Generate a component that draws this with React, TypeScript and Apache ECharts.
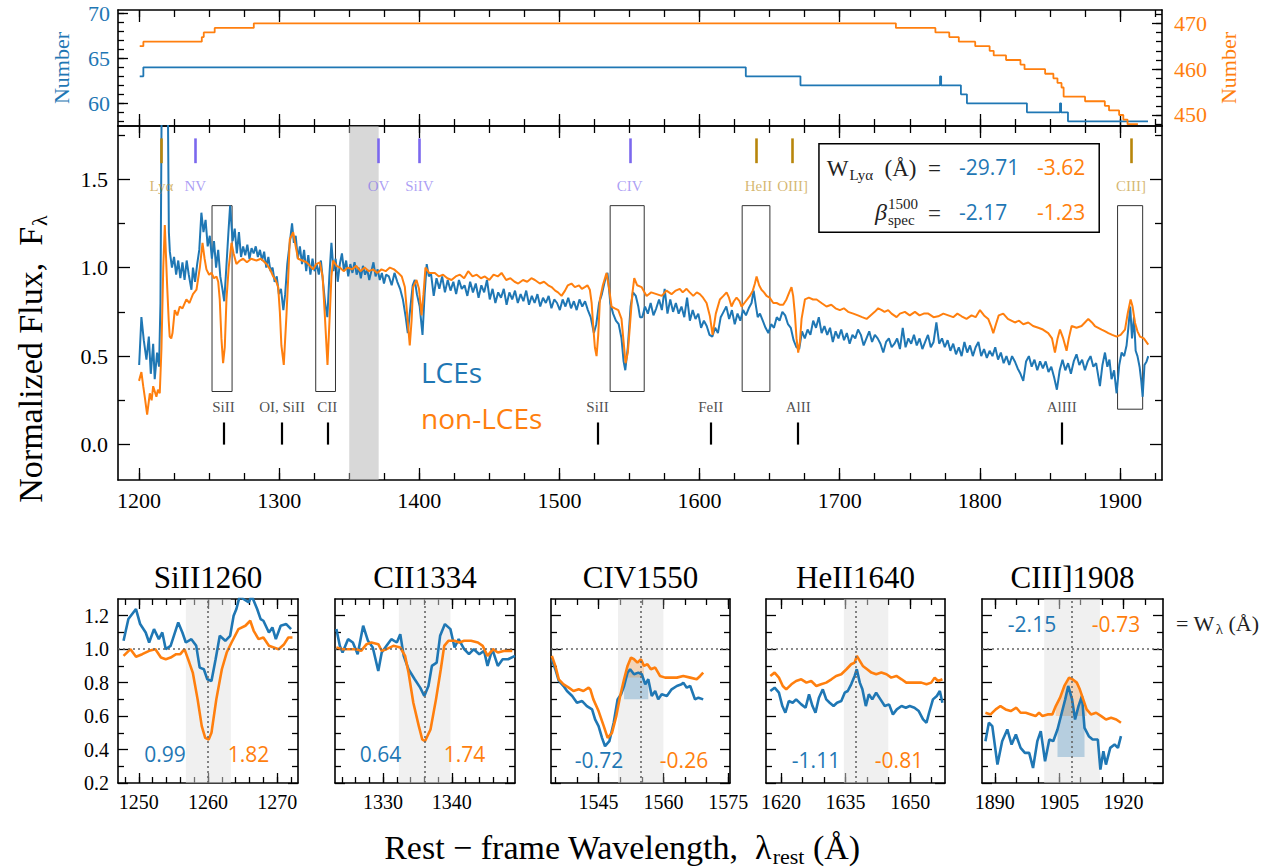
import React, { useEffect, useRef } from 'react';
import * as echarts from 'echarts';

const BLUE = '#1f77b4';
const ORANGE = '#ff7f0e';
const SERIF = '"Liberation Serif", "DejaVu Serif", serif';
const SANS = '"Open Sans", "Noto Sans", sans-serif';

// ---------- top panel: number of stacked spectra ----------
const lceCount = [[1200.5,63],[1203.1,64],[1633,63],[1672,62],[1771.6,63],[1772.4,62],[1786.5,61],[1790.8,60],[1833.6,59],[1857.2,60],[1858,59],[1862.9,58],[1920,58]];
const nonCount = [[1200.5,465],[1203.1,466],[1244.8,467],[1246.2,468],[1254,469],[1281.9,470],[1740.1,469],[1768.3,468],[1778.2,467],[1785,466],[1796.7,465],[1807,464],[1809.9,463],[1818.7,462],[1829,461],[1831.9,460],[1846.6,459],[1852.5,458],[1855.4,457],[1858.3,456],[1859.8,454],[1875.1,453],[1889.2,452],[1892.2,451],[1899.4,450],[1902.4,449],[1905.4,448],[1912.8,448]];

// ---------- main stacked spectra ----------
const lceSpec = [[1200.1,0.45],[1201.7,0.72],[1203.4,0.59],[1205.3,0.48],[1207,0.61],[1208.4,0.4],[1210.1,0.57],[1211.2,0.37],[1212.9,0.52],[1214.3,0.44],[1215.3,0.8],[1216.5,2.4],[1218.5,2.7],[1220.3,2.2],[1221.3,1.2],[1222,1.09],[1223.5,1.0],[1225,1.06],[1226.5,0.96],[1228,1.04],[1229.5,0.94],[1231,1.03],[1232.5,0.93],[1234,1.04],[1235.5,0.96],[1237.4,0.875],[1238.5,1.0],[1240,0.92],[1241.5,1.02],[1243,1.1],[1244.5,1.31],[1246,1.2],[1247.5,1.27],[1249,1.12],[1250.5,1.18],[1252,1.05],[1253.5,1.15],[1255,1.0],[1256.5,1.1],[1258,0.95],[1259.5,0.88],[1260.8,0.81],[1262.3,1.0],[1263.8,1.2],[1265,1.35],[1266.8,1.15],[1268.3,1.22],[1269.8,1.08],[1271.3,1.2],[1272.8,1.06],[1274.3,1.12],[1275.8,1.07],[1277.3,1.13],[1278.8,1.05],[1280.3,1.11],[1281.8,1.08],[1283.3,1.12],[1284.8,1.06],[1286.3,1.1],[1287.8,1.04],[1289.3,1.09],[1290.8,1.0],[1292.3,1.06],[1293.8,0.98],[1295.3,1.0],[1296.8,0.92],[1298.3,0.95],[1299.8,0.85],[1301.3,0.88],[1303,0.76],[1304.3,0.85],[1305.8,1.02],[1307.3,1.12],[1309.2,1.25],[1310.5,1.14],[1311.8,1.18],[1313.3,1.05],[1314.8,1.12],[1316.3,1.02],[1317.8,1.1],[1319.3,0.98],[1320.8,1.07],[1322.3,0.96],[1323.8,1.05],[1325.3,0.98],[1326.8,1.02],[1328.3,0.96],[1329.8,1.04],[1331.3,0.92],[1332.8,0.8],[1334.4,0.72],[1335.8,0.95],[1337.3,1.14],[1338.8,0.98],[1340.3,1.05],[1341.8,0.92],[1343.3,1.02],[1344.8,1.08],[1346.3,0.98],[1347.8,1.04],[1349.3,0.95],[1350.8,1.02],[1352.3,0.97],[1353.8,1.03],[1355.3,0.96],[1356.8,1.0],[1358.3,0.94],[1359.8,1.01],[1361.3,0.96],[1362.8,0.99],[1364.3,0.93],[1365.8,0.98],[1367.3,1.03],[1368.8,0.95],[1370.3,0.99],[1371.8,0.93],[1373.3,0.97],[1374.8,0.91],[1376.3,0.96],[1378.3,0.95],[1380.3,0.9],[1382.3,0.97],[1384.3,0.92],[1386.3,0.88],[1388.3,0.82],[1390.3,0.72],[1391.8,0.63],[1393.3,0.75],[1395.3,0.9],[1396.8,0.93],[1398.3,0.85],[1400.3,0.78],[1402.3,0.62],[1403.8,0.85],[1405.3,1.02],[1406.8,0.95],[1408.3,0.97],[1410.3,0.84],[1412.3,0.94],[1414.3,0.88],[1416.3,0.95],[1418.3,0.86],[1420.3,0.93],[1422.3,0.87],[1424.3,0.92],[1426.3,0.85],[1428.3,0.93],[1430.3,0.88],[1432.3,0.9],[1434.3,0.84],[1436.3,0.92],[1438.3,0.86],[1440.3,0.91],[1442.3,0.83],[1444.3,0.9],[1446.3,0.86],[1448.3,0.93],[1450.3,0.82],[1452.3,0.88],[1454.3,0.8],[1456.3,0.86],[1458.3,0.83],[1460.3,0.88],[1462.3,0.79],[1464.3,0.86],[1466.3,0.82],[1468.3,0.87],[1470.3,0.8],[1472.3,0.85],[1474.3,0.81],[1476.3,0.87],[1478.3,0.79],[1480.3,0.84],[1482.3,0.8],[1484.3,0.85],[1486.3,0.78],[1488.3,0.83],[1490.3,0.8],[1492.3,0.84],[1494.3,0.77],[1496.3,0.82],[1498.3,0.8],[1500.3,0.76],[1502.3,0.82],[1504.3,0.78],[1506.3,0.83],[1508.3,0.77],[1510.3,0.81],[1512.3,0.76],[1514.3,0.82],[1516.3,0.78],[1518.3,0.81],[1520.3,0.76],[1522.3,0.72],[1524.6,0.63],[1526.3,0.68],[1528.3,0.8],[1530.3,0.85],[1532.3,0.92],[1534.3,0.97],[1536.3,0.8],[1538.3,0.74],[1540.3,0.7],[1542.3,0.68],[1544.3,0.6],[1545.8,0.47],[1547,0.42],[1548.8,0.55],[1550.8,0.78],[1552.5,0.86],[1554.5,0.84],[1556.3,0.78],[1557.5,0.72],[1559.1,0.72],[1561.1,0.78],[1563.1,0.74],[1565.1,0.8],[1567.1,0.73],[1569.1,0.77],[1571.1,0.82],[1573.1,0.76],[1575.1,0.88],[1577.1,0.74],[1579.1,0.82],[1581.1,0.75],[1583.1,0.8],[1585.1,0.74],[1587.1,0.78],[1589.1,0.72],[1591.1,0.83],[1593.1,0.7],[1595.1,0.76],[1597.1,0.71],[1599.1,0.74],[1601.1,0.66],[1603.1,0.7],[1605.1,0.67],[1607.1,0.62],[1609.1,0.61],[1611.1,0.66],[1613.1,0.63],[1615.1,0.72],[1617.1,0.75],[1619.1,0.78],[1621.1,0.71],[1623.1,0.76],[1625.1,0.68],[1627.1,0.74],[1629.1,0.7],[1631.1,0.76],[1633.1,0.73],[1635.1,0.77],[1637.1,0.8],[1638.6,0.87],[1640.3,0.78],[1641.5,0.72],[1643.1,0.74],[1645.1,0.7],[1647.1,0.66],[1649.1,0.63],[1651.1,0.68],[1653.1,0.66],[1655.1,0.72],[1657.1,0.7],[1659.1,0.75],[1661.1,0.73],[1663.1,0.68],[1665.1,0.66],[1667.1,0.59],[1669.1,0.55],[1671.1,0.54],[1673.1,0.64],[1675.1,0.6],[1677.1,0.65],[1679.1,0.62],[1681.1,0.7],[1683.1,0.66],[1685.1,0.72],[1687.1,0.63],[1689.1,0.67],[1691.1,0.62],[1693.1,0.66],[1695.1,0.58],[1697.1,0.64],[1699.1,0.6],[1701.1,0.65],[1703.1,0.59],[1705.1,0.63],[1707.1,0.57],[1709.1,0.62],[1711.1,0.6],[1713.1,0.65],[1715.1,0.62],[1717.1,0.56],[1719.1,0.6],[1721.1,0.64],[1723.1,0.58],[1725.1,0.62],[1727.1,0.6],[1729.1,0.57],[1731.1,0.52],[1733.1,0.58],[1735.1,0.6],[1737.1,0.55],[1739.1,0.57],[1741,0.6],[1743,0.54],[1745,0.66],[1747,0.55],[1749,0.6],[1751,0.57],[1753,0.62],[1755,0.56],[1757,0.6],[1759,0.54],[1761,0.58],[1763,0.62],[1765,0.55],[1767,0.58],[1769,0.69],[1771,0.57],[1773,0.6],[1775,0.55],[1777,0.59],[1779,0.53],[1781,0.57],[1783,0.51],[1785,0.55],[1787,0.5],[1789,0.58],[1791,0.52],[1793,0.56],[1795,0.5],[1797,0.55],[1799,0.58],[1801,0.5],[1803,0.54],[1805,0.49],[1807,0.53],[1809,0.5],[1811,0.55],[1813,0.48],[1815,0.52],[1817,0.46],[1819,0.5],[1821,0.45],[1823,0.5],[1825,0.47],[1827,0.43],[1829,0.4],[1831,0.36],[1833,0.47],[1835,0.5],[1837,0.44],[1839,0.48],[1841,0.42],[1843,0.47],[1845,0.43],[1847,0.47],[1849,0.41],[1851,0.44],[1853,0.38],[1855,0.31],[1857,0.42],[1859,0.48],[1861,0.42],[1863,0.46],[1865,0.4],[1867,0.47],[1869,0.51],[1871,0.45],[1873,0.48],[1875,0.42],[1877,0.47],[1879,0.5],[1881,0.44],[1883,0.46],[1885.7,0.33],[1887.5,0.45],[1889.3,0.52],[1891,0.44],[1892.5,0.48],[1894,0.37],[1895.8,0.42],[1897.6,0.29],[1899.5,0.45],[1901.2,0.52],[1903,0.5],[1904.7,0.56],[1906,0.66],[1907.3,0.78],[1908.6,0.6],[1910,0.72],[1911.2,0.53],[1912.5,0.5],[1914,0.44],[1915.2,0.36],[1916.2,0.27],[1917.5,0.45],[1919,0.47],[1920.2,0.5]];

const nonSpec = [[1200,0.36],[1201.7,0.41],[1203,0.33],[1204.1,0.27],[1205.8,0.17],[1207.7,0.29],[1209,0.25],[1210.1,0.33],[1212.4,0.27],[1213.5,0.31],[1214.8,0.29],[1216,0.54],[1217.3,1.0],[1218.4,1.24],[1220,0.91],[1221.2,0.7],[1221.9,0.61],[1223,0.6],[1223.9,0.63],[1225.5,0.76],[1227.3,0.73],[1229.1,0.78],[1231,0.77],[1233.8,0.82],[1236,0.8],[1238.5,0.85],[1241,0.875],[1243.4,1.0],[1245.3,1.14],[1246.8,1.05],[1248.1,0.99],[1250,0.96],[1251.7,0.97],[1253.5,0.94],[1255.3,0.95],[1256.5,0.92],[1257.6,0.82],[1258.8,0.6],[1260,0.46],[1261.2,0.55],[1262.4,0.82],[1264,1.0],[1266,1.14],[1267.5,1.08],[1269.5,1.02],[1272,1.04],[1274.3,1.05],[1277,1.03],[1280,1.05],[1283.8,1.04],[1287,1.05],[1291,1.02],[1293.5,0.99],[1295.7,0.95],[1297.5,0.93],[1299.3,0.89],[1300.5,0.75],[1301.6,0.56],[1303.3,0.45],[1305.2,0.73],[1306.5,0.95],[1307.6,1.16],[1310,1.2],[1311.8,1.12],[1313.5,1.05],[1316.5,1.04],[1319.5,1.03],[1322,1.01],[1324.2,0.99],[1326.5,1.02],[1329,1.03],[1331,0.95],[1332.6,0.73],[1334.5,0.45],[1336.1,0.73],[1337.3,0.95],[1338.5,1.04],[1341,1.01],[1343.3,1.0],[1346,0.98],[1349,1.0],[1352,0.99],[1355,1.01],[1358,0.98],[1361,1.0],[1364,0.98],[1367,0.99],[1370,0.97],[1373,0.99],[1376,0.98],[1379,1.0],[1382,0.99],[1385,0.97],[1387.5,0.95],[1389.7,0.89],[1391.5,0.72],[1393.2,0.56],[1394.5,0.7],[1395.6,0.89],[1398,0.93],[1399.8,0.88],[1401.6,0.73],[1403,0.85],[1404.4,1.0],[1407,0.97],[1411.1,0.97],[1414,0.95],[1417,0.96],[1420,0.94],[1423,0.93],[1426,0.95],[1429,0.96],[1432,0.94],[1434.9,0.98],[1438,0.95],[1441,0.96],[1444,0.94],[1446.8,0.95],[1450,0.93],[1453,0.96],[1456,0.95],[1458.7,0.97],[1462,0.93],[1465,0.94],[1468,0.92],[1470.6,0.91],[1474,0.93],[1477,0.92],[1480,0.94],[1482.5,0.93],[1486,0.91],[1489,0.92],[1492,0.9],[1494.4,0.89],[1497,0.87],[1499,0.86],[1501.5,0.84],[1504,0.87],[1506,0.9],[1508.6,0.91],[1511,0.89],[1514,0.9],[1516,0.88],[1518.1,0.89],[1520,0.9],[1521.7,0.875],[1523,0.8],[1524.1,0.67],[1525.3,0.55],[1526.5,0.5],[1527.7,0.62],[1528.9,0.82],[1531,0.9],[1533.6,0.97],[1535.5,0.88],[1537.2,0.78],[1539.5,0.77],[1542,0.76],[1544.3,0.71],[1545.8,0.58],[1547.2,0.46],[1548.8,0.52],[1550.3,0.67],[1552,0.85],[1553.4,0.94],[1555.5,0.9],[1558.6,0.89],[1562.2,0.84],[1565.5,0.86],[1569.3,0.85],[1573,0.84],[1576.4,0.87],[1580,0.85],[1583,0.87],[1585.9,0.88],[1588,0.86],[1590.7,0.88],[1593,0.86],[1595.5,0.84],[1598,0.86],[1600.2,0.85],[1602.5,0.83],[1605,0.8],[1607.4,0.725],[1609.3,0.62],[1611.6,0.74],[1614.5,0.82],[1617,0.84],[1619.3,0.86],[1621,0.83],[1622.8,0.78],[1624.5,0.81],[1626.4,0.83],[1628.5,0.81],[1630,0.78],[1632,0.8],[1634,0.82],[1635.9,0.84],[1638,0.87],[1639.5,0.91],[1640.7,0.95],[1642.5,0.9],[1644.2,0.875],[1646,0.86],[1647.8,0.84],[1650,0.83],[1652.6,0.8],[1655,0.8],[1657.5,0.79],[1659.7,0.79],[1662,0.82],[1664,0.86],[1665.6,0.89],[1666.8,0.84],[1668,0.74],[1669.2,0.6],[1670.4,0.52],[1671.6,0.58],[1672.8,0.71],[1675.2,0.82],[1678,0.83],[1681,0.82],[1683.5,0.82],[1687,0.8],[1690.6,0.78],[1694,0.79],[1697,0.77],[1700.1,0.76],[1703,0.77],[1706,0.75],[1709.7,0.74],[1713,0.73],[1716,0.72],[1719.2,0.71],[1722,0.73],[1725,0.75],[1727.5,0.77],[1730,0.76],[1732,0.75],[1734.6,0.76],[1737,0.74],[1740.6,0.72],[1743,0.74],[1746.5,0.75],[1750,0.73],[1753.7,0.75],[1757,0.73],[1760,0.74],[1763.2,0.74],[1767,0.72],[1770.3,0.725],[1774,0.74],[1777.5,0.73],[1781,0.72],[1784,0.74],[1787,0.725],[1790.5,0.71],[1794.1,0.73],[1797,0.72],[1800.1,0.76],[1803,0.73],[1806,0.71],[1808,0.67],[1809.6,0.63],[1811.5,0.68],[1813.5,0.73],[1816.7,0.74],[1820,0.71],[1822.5,0.7],[1825,0.69],[1828,0.7],[1831,0.68],[1834.6,0.69],[1838,0.67],[1841.7,0.66],[1845,0.65],[1848.8,0.63],[1851.5,0.6],[1853.6,0.52],[1855.5,0.6],[1857.2,0.65],[1859.5,0.6],[1861.9,0.53],[1863.5,0.6],[1865.5,0.67],[1869,0.66],[1872.6,0.67],[1875,0.69],[1877.4,0.71],[1880,0.69],[1882.1,0.67],[1884.5,0.66],[1886.9,0.65],[1889.5,0.64],[1891.7,0.63],[1894.5,0.62],[1897.6,0.61],[1900.5,0.62],[1903.6,0.65],[1905.5,0.74],[1907.6,0.82],[1909,0.78],[1910.7,0.69],[1912.5,0.64],[1914.3,0.61],[1917,0.6],[1920.2,0.565]];

// ---------- line identifications ----------
const emissionLines = [
  { label: 'Lyα', wave: 1216, kind: 'gold' },
  { label: 'NV', wave: 1240.2, kind: 'purple' },
  { label: 'OV', wave: 1370.9, kind: 'purple' },
  { label: 'SiIV', wave: 1400.1, kind: 'purple' },
  { label: 'CIV', wave: 1550.2, kind: 'purple' },
  { label: 'HeII', wave: 1640.2, kind: 'gold', labelWave: 1642 },
  { label: 'OIII]', wave: 1666.4, kind: 'gold' },
  { label: 'CIII]', wave: 1907.8, kind: 'gold' },
];
const absorptionLines = [
  { label: 'SiII', wave: 1260.2 },
  { label: 'OI, SiII', wave: 1302.1 },
  { label: 'CII', wave: 1334.4 },
  { label: 'SiII', wave: 1527.2 },
  { label: 'FeII', wave: 1608 },
  { label: 'AlII', wave: 1670.4 },
  { label: 'AlIII', wave: 1858.4 },
];
const zoomBoxes = [
  [1252.1, 1266.4, 0.30, 1.35],
  [1326.1, 1340.2, 0.30, 1.35],
  [1536.2, 1560.5, 0.30, 1.35],
  [1630.4, 1650.2, 0.30, 1.35],
  [1898.3, 1916.2, 0.20, 1.35],
];
const maskedBand = [1350, 1371];

// ---------- zoom panels ----------
const siiBlue = [[1247.8,1.05],[1248.5,1.18],[1249.6,1.24],[1250.2,1.15],[1251,1.1],[1251.5,1.04],[1252.2,1.12],[1252.9,1.06],[1253.4,1.1],[1253.9,1.0],[1254.6,1.02],[1255.7,1.16],[1256.3,1.1],[1256.8,1.04],[1257.6,1.06],[1258.3,1.02],[1258.8,0.89],[1259.4,0.88],[1259.9,0.82],[1260.5,0.81],[1261.1,0.94],[1261.7,1.08],[1262.5,1.05],[1263.2,1.08],[1263.7,1.2],[1264.1,1.24],[1264.6,1.32],[1265.1,1.3],[1265.9,1.28],[1266.3,1.32],[1267.1,1.24],[1267.6,1.18],[1268,1.17],[1268.8,1.1],[1269.3,1.13],[1269.8,1.06],[1270.5,1.14],[1271.3,1.15],[1272,1.12]];
const siiOrange = [[1247.8,0.96],[1248.8,1.0],[1249.6,0.955],[1250.5,0.97],[1251.5,0.99],[1252.4,1.0],[1253.2,0.95],[1253.9,0.94],[1254.6,0.95],[1255.4,0.97],[1256,0.97],[1256.6,1.0],[1257.3,0.92],[1257.8,0.86],[1258.5,0.7],[1259.1,0.54],[1259.6,0.47],[1260.1,0.46],[1260.5,0.5],[1261.2,0.7],[1262,0.88],[1262.7,0.98],[1263.4,1.04],[1264.4,1.12],[1265.4,1.14],[1266.1,1.17],[1266.6,1.11],[1267.3,1.06],[1268,1.07],[1268.8,1.02],[1269.5,1.01],[1270.2,1.0],[1271,1.03],[1271.6,1.07],[1272.2,1.07]];
const ciiBlue = [[1323.2,1.12],[1323.7,1.02],[1324.1,0.98],[1324.9,1.06],[1325.6,1.04],[1326.3,0.97],[1327.1,1.14],[1327.8,1.05],[1328.5,1.01],[1329.3,0.87],[1329.8,0.98],[1330.5,1.02],[1331.2,1.06],[1332,1.04],[1332.5,1.09],[1333,0.96],[1333.7,0.88],[1334.6,0.82],[1335.4,0.77],[1336,0.72],[1336.6,0.78],[1337.1,0.9],[1337.8,0.92],[1338.3,1.08],[1339,1.15],[1339.8,1.12],[1340.4,1.01],[1341,1.06],[1341.8,1.0],[1342.5,0.97],[1343.2,1.0],[1344,0.97],[1344.7,0.99],[1345.2,0.9],[1345.9,1.0],[1346.7,0.9],[1347.4,0.94],[1348.2,0.94],[1349.2,0.96]];
const ciiOrange = [[1323.2,1.01],[1324.1,1.0],[1325.1,1.0],[1326.1,1.0],[1326.8,0.99],[1327.6,1.03],[1328.3,1.04],[1329.3,1.03],[1329.8,0.99],[1330.5,1.0],[1331.5,1.02],[1332.5,1.01],[1333.2,0.96],[1333.7,0.86],[1334.4,0.68],[1335.2,0.54],[1335.7,0.46],[1336.1,0.45],[1336.9,0.52],[1337.7,0.7],[1338.4,0.88],[1338.9,1.02],[1339.5,1.05],[1340.4,1.05],[1341.1,1.04],[1341.8,1.05],[1342.8,1.05],[1343.8,1.04],[1344.5,1.02],[1345.2,0.96],[1346,1.0],[1346.7,0.98],[1347.7,0.99],[1348.8,0.99]];
const civBlue = [[1534.2,0.94],[1535,0.88],[1535.8,0.81],[1536.9,0.78],[1537.7,0.75],[1538.9,0.72],[1540,0.68],[1541.2,0.69],[1542.3,0.66],[1543.5,0.64],[1544.2,0.58],[1545,0.54],[1545.8,0.47],[1546.5,0.42],[1547.5,0.45],[1548.5,0.56],[1549.4,0.7],[1550.2,0.73],[1550.9,0.78],[1551.7,0.86],[1552.3,0.88],[1553.2,0.85],[1554.2,0.86],[1555,0.85],[1555.8,0.79],[1556.5,0.82],[1557.3,0.72],[1558.1,0.75],[1558.8,0.7],[1559.6,0.73],[1560.8,0.72],[1561.9,0.76],[1563.1,0.78],[1564.2,0.79],[1564.6,0.8],[1565.4,0.77],[1566.2,0.78],[1567.3,0.7],[1568.1,0.71],[1569.2,0.7]];
const civOrange = [[1534.2,0.96],[1535,0.9],[1535.8,0.82],[1536.9,0.79],[1538.1,0.77],[1539.2,0.75],[1540.4,0.76],[1541.5,0.75],[1542.7,0.77],[1543.1,0.76],[1543.8,0.7],[1545,0.63],[1546.2,0.54],[1547.1,0.47],[1548.1,0.5],[1549.1,0.6],[1550,0.72],[1550.9,0.82],[1551.7,0.9],[1552.5,0.95],[1553.2,0.94],[1554,0.92],[1554.8,0.94],[1555.5,0.9],[1556.3,0.91],[1557.1,0.88],[1558.1,0.89],[1559.2,0.84],[1560.4,0.83],[1561.5,0.83],[1563.1,0.83],[1564.6,0.84],[1566.2,0.83],[1567.7,0.82],[1568.5,0.84],[1569.2,0.86]];
const heiiBlue = [[1617.5,0.75],[1618.5,0.77],[1619.5,0.74],[1620.3,0.66],[1621,0.62],[1621.8,0.69],[1622.7,0.68],[1623.5,0.7],[1624.7,0.67],[1625.7,0.65],[1626.5,0.73],[1627.3,0.66],[1628,0.62],[1628.8,0.71],[1629.7,0.76],[1630.5,0.7],[1631.3,0.68],[1632.2,0.66],[1633,0.68],[1634,0.69],[1634.8,0.74],[1635.5,0.75],[1636.3,0.79],[1637.1,0.84],[1637.6,0.88],[1638.3,0.8],[1638.9,0.76],[1639.7,0.66],[1640.4,0.73],[1641.2,0.7],[1642.1,0.74],[1643.1,0.7],[1644.1,0.66],[1645.1,0.67],[1646,0.61],[1646.9,0.64],[1648,0.66],[1649,0.65],[1649.9,0.66],[1651,0.65],[1652,0.63],[1653,0.58],[1653.8,0.56],[1654.4,0.62],[1655.3,0.7],[1656.2,0.72],[1656.9,0.75],[1657.5,0.68]];
const heiiOrange = [[1617.5,0.84],[1618.5,0.86],[1619.5,0.83],[1620.4,0.78],[1621.2,0.76],[1622.4,0.79],[1623.5,0.81],[1624.7,0.82],[1625.9,0.8],[1627,0.81],[1628.2,0.78],[1629.3,0.79],[1630.5,0.8],[1631.7,0.82],[1632.8,0.84],[1634,0.85],[1635.2,0.88],[1636.3,0.91],[1637.1,0.92],[1637.6,0.96],[1638.3,0.93],[1639,0.9],[1640,0.88],[1641,0.86],[1642.1,0.85],[1643.3,0.86],[1644.5,0.85],[1645.6,0.83],[1646.8,0.84],[1648,0.82],[1649.1,0.8],[1650.3,0.8],[1651.4,0.8],[1652.6,0.8],[1653.8,0.79],[1654.9,0.8],[1655.7,0.83],[1656.5,0.81],[1657.5,0.82]];
const ciiiBlue = [[1887.8,0.45],[1888.6,0.56],[1889.4,0.54],[1890.6,0.31],[1891.7,0.45],[1892.9,0.52],[1893.9,0.43],[1894.9,0.49],[1896,0.41],[1897,0.38],[1898,0.38],[1898.9,0.29],[1899.9,0.45],[1900.7,0.51],[1901.7,0.33],[1902.7,0.46],[1903.6,0.45],[1904.6,0.52],[1905.6,0.62],[1906.4,0.7],[1907.1,0.78],[1908,0.7],[1908.7,0.58],[1909.5,0.66],[1910.3,0.72],[1910.9,0.53],[1911.9,0.48],[1912.8,0.46],[1914,0.46],[1914.6,0.28],[1915.3,0.39],[1915.9,0.31],[1916.9,0.41],[1917.9,0.43],[1918.7,0.41],[1919.4,0.48]];
const ciiiOrange = [[1887.8,0.62],[1889,0.61],[1890.2,0.64],[1891.3,0.66],[1892.5,0.64],[1893.7,0.63],[1895,0.65],[1896,0.62],[1897.2,0.62],[1898.4,0.61],[1899.5,0.6],[1900.3,0.62],[1901.1,0.6],[1902.3,0.61],[1903.4,0.61],[1904.2,0.66],[1905.2,0.71],[1906.2,0.78],[1907.3,0.83],[1908.1,0.82],[1909.1,0.8],[1909.8,0.76],[1910.6,0.7],[1911.4,0.64],[1912.4,0.61],[1913.6,0.62],[1914.8,0.6],[1915.9,0.58],[1917.1,0.59],[1918.3,0.58],[1919.4,0.56]];

const panels = [
  { title: 'SiII1260', range: [1247, 1273], center: 1260, band: [1256.8, 1263.3], blue: siiBlue, orange: siiOrange,
    majors: [1250, 1260, 1270], minorStep: 2, wBlue: '0.99', wOrange: '1.82', fills: [] },
  { title: 'CII1334', range: [1323, 1349.2], center: 1336, band: [1332.3, 1339.8], blue: ciiBlue, orange: ciiOrange,
    majors: [1330, 1340], minorStep: 2, wBlue: '0.64', wOrange: '1.74', fills: [] },
  { title: 'CIV1550', range: [1534, 1575.4], center: 1554.7, band: [1549.5, 1560], blue: civBlue, orange: civOrange,
    majors: [1545, 1560, 1575], minorStep: 5, wBlue: '-0.72', wOrange: '-0.26',
    fills: [{ who: 'blue', from: 1550.7, to: 1556.6, base: 0.70 }, { who: 'orange', from: 1551.3, to: 1555.8, base: 0.83 }] },
  { title: 'HeII1640', range: [1616.5, 1658.1], center: 1637.4, band: [1634.6, 1644.9], blue: heiiBlue, orange: heiiOrange,
    majors: [1620, 1635, 1650], minorStep: 5, wBlue: '-1.11', wOrange: '-0.81', fills: [] },
  { title: 'CIII]1908', range: [1887, 1929.2], center: 1908, band: [1901.5, 1914.5], blue: ciiiBlue, orange: ciiiOrange,
    majors: [1890, 1905, 1920], minorStep: 5, wBlue: '-2.15', wOrange: '-0.73',
    fills: [{ who: 'orange', from: 1903.9, to: 1912, base: 0.60 }, { who: 'blue', from: 1904.2, to: 1911.6, base: 0.355 }] },
];

const mainXMajor = [1200, 1300, 1400, 1500, 1600, 1700, 1800, 1900];
const mainYMajor = [0, 0.5, 1.0, 1.5];
const topLeftMajor = [60, 65, 70];
const topRightMajor = [450, 460, 470];
const panelYMajor = [0.2, 0.4, 0.6, 0.8, 1.0, 1.2];

function steps(a: number, b: number, s: number) {
  const out: number[] = [];
  for (let v = a; v <= b + 1e-9; v += s) out.push(Math.round(v * 1000) / 1000);
  return out;
}

function buildOption() {
  const grids = [
    { left: 118, top: 10, width: 1044, height: 116 },
    { left: 118, top: 126, width: 1044, height: 354 },
    { left: 118, top: 599, width: 180, height: 184 },
    { left: 335, top: 599, width: 180, height: 184 },
    { left: 551, top: 599, width: 179, height: 184 },
    { left: 766, top: 599, width: 179, height: 184 },
    { left: 982, top: 599, width: 181, height: 184 },
  ].map((g) => ({ ...g, containLabel: false, outerBoundsMode: 'none', show: false }));

  const xAxes: any[] = [];
  const yAxes: any[] = [];
  const tick = { color: '#000', width: 1.3 };
  const frame = { color: '#000', width: 1.6 };

  function addX(grid: number, min: number, max: number, majors: number[], minors: number[], labels: boolean, fontSize: number, majLen: number, minLen: number) {
    const idx = xAxes.length;
    for (const pos of ['bottom', 'top']) {
      const base = { type: 'value', gridIndex: grid, min, max, position: pos, splitLine: { show: false } };
      xAxes.push({ ...base, axisLine: { show: true, onZero: false, lineStyle: frame },
        axisTick: { show: true, inside: true, length: majLen, customValues: majors, lineStyle: tick },
        axisLabel: { show: labels && pos === 'bottom', customValues: majors, color: '#000', fontFamily: SERIF, fontSize, margin: 9, formatter: (v: number) => String(v) } });
      xAxes.push({ ...base, axisLine: { show: false, onZero: false },
        axisTick: { show: true, inside: true, length: minLen, customValues: minors, lineStyle: tick },
        axisLabel: { show: false } });
    }
    return idx;
  }
  function addY(grid: number, min: number, max: number, majors: number[], minors: number[], left: any, right: any, majLen: number, minLen: number) {
    const idx = yAxes.length;
    for (const pos of ['left', 'right']) {
      const lab = pos === 'left' ? left : right;
      const base = { type: 'value', gridIndex: grid, min, max, position: pos, splitLine: { show: false } };
      yAxes.push({ ...base, axisLine: { show: true, onZero: false, lineStyle: frame },
        axisTick: { show: true, inside: true, length: majLen, customValues: majors, lineStyle: tick },
        axisLabel: lab ? { show: true, customValues: majors, color: lab.color, fontFamily: SERIF, fontSize: lab.size, margin: lab.margin, formatter: lab.fmt } : { show: false } });
      yAxes.push({ ...base, axisLine: { show: false, onZero: false },
        axisTick: { show: true, inside: true, length: minLen, customValues: minors, lineStyle: tick },
        axisLabel: { show: false } });
    }
    return idx;
  }

  const minorMainX = steps(1200, 1925, 25);
  const xTop = addX(0, 1185, 1930, mainXMajor, minorMainX, false, 22, 12, 7);
  const yTop = addY(0, 57.48, 70.37, topLeftMajor, steps(58, 70, 1),
    { color: BLUE, size: 22, margin: 8, fmt: (v: number) => String(v) }, null, 10, 6);
  const yTopR = yAxes.length;
  yAxes.push({ type: 'value', gridIndex: 0, min: 447.6, max: 472.9, position: 'right', splitLine: { show: false },
    axisLine: { show: false, onZero: false }, axisTick: { show: true, inside: true, length: 10, customValues: topRightMajor, lineStyle: tick },
    axisLabel: { show: true, customValues: topRightMajor, color: ORANGE, fontFamily: SERIF, fontSize: 22, margin: 12, formatter: (v: number) => String(v) } });
  yAxes.push({ type: 'value', gridIndex: 0, min: 447.6, max: 472.9, position: 'right', splitLine: { show: false },
    axisLine: { show: false, onZero: false }, axisTick: { show: true, inside: true, length: 6, customValues: steps(448, 472, 2), lineStyle: tick },
    axisLabel: { show: false } });
  yAxes[yTop + 2].axisTick = { show: false };
  yAxes[yTop + 3].axisTick = { show: false };

  const xMain = addX(1, 1185, 1930, mainXMajor, minorMainX, true, 22, 12, 7);
  const yMain = addY(1, -0.2, 1.8, mainYMajor, [0.25, 0.75, 1.25, 1.75],
    { color: '#000', size: 22, margin: 10, fmt: (v: number) => v.toFixed(1) }, null, 12, 7);

  const series: any[] = [];
  const line = (xi: number, yi: number, data: any, color: string, width: number, z = 3) => ({
    type: 'line', xAxisIndex: xi, yAxisIndex: yi, data, showSymbol: false, symbol: 'none', silent: true,
    lineStyle: { color, width }, itemStyle: { color }, z, animation: false,
  });

  series.push({ ...line(xTop, yTop, lceCount, BLUE, 1.8), step: 'end' });
  series.push({ ...line(xTop, yTopR, nonCount, ORANGE, 1.8), step: 'end' });

  series.push({ type: 'line', xAxisIndex: xMain, yAxisIndex: yMain, data: [], silent: true, z: 1,
    markArea: { silent: true, itemStyle: { color: 'rgba(190,190,190,0.6)' },
      data: [[{ xAxis: maskedBand[0] }, { xAxis: maskedBand[1] }]] } });

  series.push(line(xMain, yMain, lceSpec, BLUE, 2));
  series.push(line(xMain, yMain, nonSpec, ORANGE, 2));

  series.push({ type: 'line', xAxisIndex: xMain, yAxisIndex: yMain, data: [], silent: true, z: 5,
    markArea: { silent: true, data: [
      ...zoomBoxes.map((b) => [
        { coord: [b[0], b[3]], itemStyle: { color: 'rgba(0,0,0,0)', borderColor: '#333', borderWidth: 1 } },
        { coord: [b[1], b[2]] }]),
      [{ coord: [1685.2, 1.70], itemStyle: { color: '#fff', borderColor: '#000', borderWidth: 1.5 } }, { coord: [1885.2, 1.20] }],
    ] },
    markLine: { silent: true, symbol: ['none', 'none'], label: { show: false }, animation: false,
      data: [
        ...emissionLines.map((l) => [
          { coord: [l.wave, 1.59], lineStyle: { color: l.kind === 'gold' ? '#b8860b' : '#7b68ee', width: 2.6, type: 'solid' } },
          { coord: [l.wave, 1.73] }]),
        ...absorptionLines.map((l) => [
          { coord: [l.wave, 0.0], lineStyle: { color: '#000', width: 2.2, type: 'solid' } },
          { coord: [l.wave, 0.125] }]),
      ] } });

  series.push({ type: 'scatter', xAxisIndex: xMain, yAxisIndex: yMain, symbolSize: 1, silent: true, z: 6,
    itemStyle: { color: 'rgba(0,0,0,0)' },
    label: { show: true, position: 'inside', formatter: '{b}', fontFamily: SERIF, fontSize: 15 },
    data: [
      ...emissionLines.map((l: any) => ({ name: l.label, value: [l.labelWave || l.wave, 1.46],
        label: { color: l.kind === 'gold' ? 'rgba(184,134,11,0.75)' : 'rgba(123,104,238,0.8)' } })),
      ...absorptionLines.map((l) => ({ name: l.label, value: [l.wave, 0.21], label: { color: '#222' } })),
    ] });

  panels.forEach((p, i) => {
    const g = 2 + i;
    const xi = addX(g, p.range[0], p.range[1], p.majors,
      steps(Math.ceil(p.range[0] / p.minorStep) * p.minorStep, p.range[1], p.minorStep), true, 20, 10, 6);
    const yi = addY(g, 0.2, 1.3, panelYMajor, [0.3, 0.5, 0.7, 0.9, 1.1],
      i === 0 ? { color: '#000', size: 20, margin: 9, fmt: (v: number) => v.toFixed(1) } : null, null, 10, 6);
    series.push({ type: 'line', xAxisIndex: xi, yAxisIndex: yi, data: [], silent: true, z: 1,
      markArea: { silent: true, itemStyle: { color: 'rgba(225,225,225,0.5)' }, data: [[{ xAxis: p.band[0] }, { xAxis: p.band[1] }]] },
      markLine: { silent: true, symbol: ['none', 'none'], label: { show: false }, animation: false,
        lineStyle: { color: '#666', width: 1.6, type: [2, 3] },
        data: [{ xAxis: p.center }, { yAxis: 1.0 }] } });
    p.fills.forEach((f: any) => {
      const src = f.who === 'blue' ? p.blue : p.orange;
      const pts = src.filter((d: number[]) => d[0] >= f.from && d[0] <= f.to);
      series.push({ type: 'line', xAxisIndex: xi, yAxisIndex: yi, data: pts, showSymbol: false, symbol: 'none', silent: true, z: 2,
        lineStyle: { width: 0, opacity: 0 },
        areaStyle: { origin: f.base, color: f.who === 'blue' ? 'rgba(31,119,180,0.4)' : 'rgba(255,127,14,0.35)' } });
    });
    series.push(line(xi, yi, p.blue, BLUE, 2.6));
    series.push(line(xi, yi, p.orange, ORANGE, 2.6));
  });

  const txt = (x: number, y: number, text: string, opts: any = {}) => ({
    type: 'text', x, y, silent: true, z: 100, rotation: opts.rotation || 0,
    style: {
      text, fill: opts.color || '#000', fontFamily: opts.font || SERIF, fontSize: opts.size || 20,
      fontStyle: opts.italic ? 'italic' : 'normal',
      align: opts.align || 'center', textAlign: opts.align || 'center',
      verticalAlign: 'middle', textVerticalAlign: 'middle', rich: opts.rich,
    },
  });

  const panelCenters = [208, 425, 640.5, 855.5, 1072.5];
  const wPos = [
    [165, 248.5, 754], [380.5, 464.5, 754], [599, 684, 760], [816, 899, 760], [1032, 1116, 624],
  ];
  const graphic: any[] = [
    txt(61, 68, 'Number', { color: BLUE, size: 22, rotation: Math.PI / 2 }),
    txt(1228, 68, 'Number', { color: ORANGE, size: 22, rotation: Math.PI / 2 }),
    txt(421, 372, 'LCEs', { color: BLUE, size: 28, font: SANS, align: 'left' }),
    txt(421, 418, 'non-LCEs', { color: ORANGE, size: 28, font: SANS, align: 'left' }),
    txt(941, 168, '{a|W}{s|Lyα}{a|  (Å)  =}', { align: 'right', rich: {
      a: { fontFamily: SERIF, fontSize: 23, fill: '#222', color: '#222' },
      s: { fontFamily: SERIF, fontSize: 15, fill: '#222', color: '#222', padding: [14, 0, 0, 1] } } }),
    txt(887, 212, 'β', { size: 24, italic: true, align: 'right', color: '#222' }),
    txt(888, 204, '1500', { size: 15, align: 'left', color: '#222' }),
    txt(888, 220, 'spec', { size: 15, align: 'left', color: '#222' }),
    txt(941, 213, '=', { size: 23, align: 'right', color: '#333' }),
    txt(959, 167, '-29.71', { color: BLUE, size: 21, font: SANS, align: 'left' }),
    txt(1037, 167, '-3.62', { color: ORANGE, size: 21, font: SANS, align: 'left' }),
    txt(959, 212, '-2.17', { color: BLUE, size: 21, font: SANS, align: 'left' }),
    txt(1037, 212, '-1.23', { color: ORANGE, size: 21, font: SANS, align: 'left' }),
    txt(30, 359, '{a|Normalized Flux,  F}{s|λ}', { rotation: Math.PI / 2, rich: {
      a: { fontFamily: SERIF, fontSize: 34, fill: '#000', color: '#000' },
      s: { fontFamily: SERIF, fontSize: 22, fill: '#000', color: '#000', padding: [18, 0, 0, 1] } } }),
    txt(622, 847, '{a|Rest − frame Wavelength,  λ}{s|rest}{a| (Å)}', { rich: {
      a: { fontFamily: SERIF, fontSize: 34, fill: '#000', color: '#000' },
      s: { fontFamily: SERIF, fontSize: 22, fill: '#000', color: '#000', padding: [18, 0, 0, 1] } } }),
    txt(1176, 623, '{a|= W}{s|λ}{a| (Å)}', { align: 'left', rich: {
      a: { fontFamily: SERIF, fontSize: 22, fill: '#222', color: '#222' },
      s: { fontFamily: SERIF, fontSize: 15, fill: '#222', color: '#222', padding: [12, 0, 0, 1] } } }),
  ];
  panels.forEach((p, i) => {
    graphic.push(txt(panelCenters[i], 577, p.title, { size: 31 }));
    graphic.push(txt(wPos[i][0], wPos[i][2], p.wBlue, { color: BLUE, size: 21, font: SANS }));
    graphic.push(txt(wPos[i][1], wPos[i][2], p.wOrange, { color: ORANGE, size: 21, font: SANS }));
  });

  return {
    animation: false,
    backgroundColor: '#fff',
    grid: grids,
    xAxis: xAxes,
    yAxis: yAxes,
    series,
    graphic,
  };
}

export default function App() {
  const ref = useRef<HTMLDivElement>(null);
  useEffect(() => {
    const chart = echarts.init(ref.current as HTMLDivElement, null, { renderer: 'svg' });
    chart.setOption(buildOption() as any);
    return () => chart.dispose();
  }, []);
  return <div ref={ref} style={{ position: 'absolute', left: 0, top: 0, width: 1285, height: 867, background: '#fff' }} />;
}
